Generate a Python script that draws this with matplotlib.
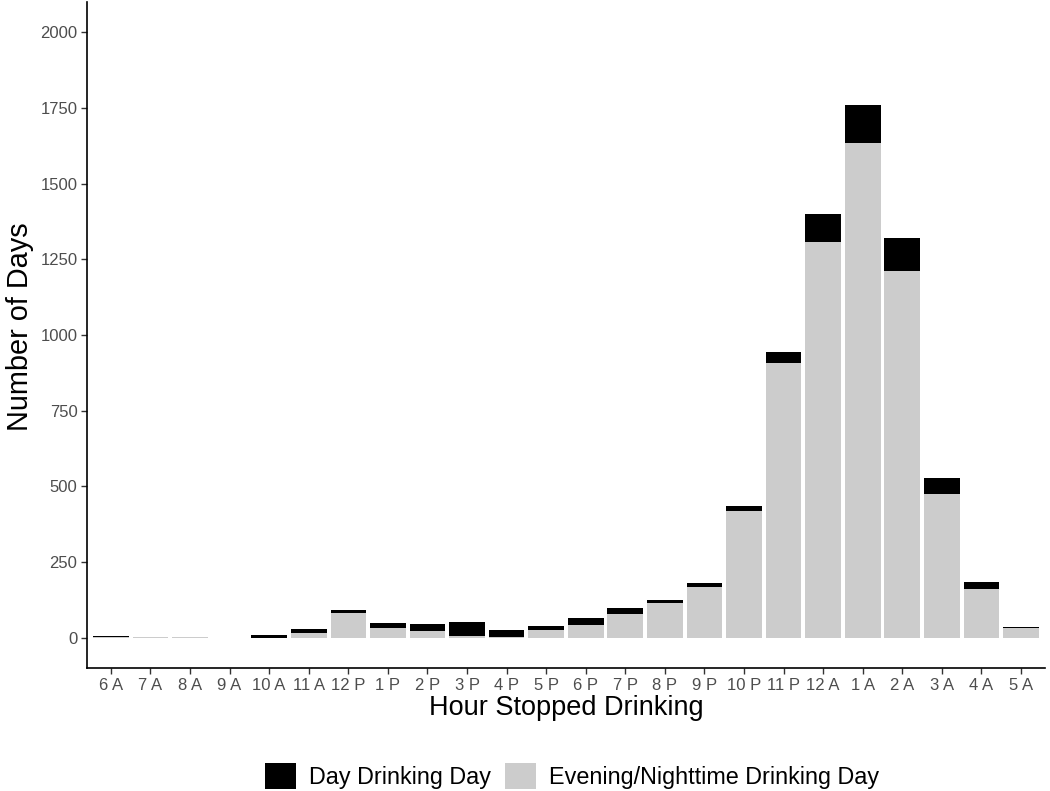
import numpy as np
import matplotlib
matplotlib.use("Agg")
from matplotlib import pyplot as plt
from matplotlib.patches import Patch

plt.rcParams['font.family'] = ['Liberation Sans', 'DejaVu Sans']

# Data
hours = ['6 A', '7 A', '8 A', '9 A', '10 A', '11 A', '12 P', '1 P', '2 P', '3 P',
         '4 P', '5 P', '6 P', '7 P', '8 P', '9 P', '10 P', '11 P', '12 A', '1 A',
         '2 A', '3 A', '4 A', '5 A']
evening = [3, 1, 1, 0, 0, 14, 83, 32, 22, 5,
           2, 26, 41, 77, 115, 169, 417, 907, 1308, 1635,
           1210, 476, 160, 33]
day = [2, 0, 0, 0, 10, 16, 9, 18, 23, 48,
       25, 12, 23, 20, 11, 13, 19, 37, 90, 125,
       109, 52, 25, 4]

x = np.arange(len(hours))
evening = np.array(evening)
day = np.array(day)

fig = plt.figure(figsize=(10.5, 7.91), dpi=100)
ax = fig.add_axes([0.083, 0.1555, 0.912, 0.842])

ax.bar(x, evening, width=0.9, color='#CCCCCC', linewidth=0)
ax.bar(x, day, width=0.9, bottom=evening, color='black', linewidth=0)

ax.set_xlim(-0.6, len(hours) - 0.4)
ax.set_ylim(-100, 2100)
ax.set_yticks([0, 250, 500, 750, 1000, 1250, 1500, 1750, 2000])
ax.set_xticks(x)
ax.set_xticklabels(hours)

for s in ['top', 'right']:
    ax.spines[s].set_visible(False)
for s in ['left', 'bottom']:
    ax.spines[s].set_linewidth(1.2)
ax.tick_params(axis='both', length=4, width=1, color='#333333',
               labelsize=12, labelcolor='#4D4D4D', pad=3)

ax.set_xlabel('Hour Stopped Drinking', fontsize=19.5, labelpad=2)
ax.set_ylabel('Number of Days', fontsize=20.8)
ax.yaxis.set_label_coords(-0.0553, 0.512)

handles = [Patch(facecolor='black', label='Day Drinking Day'),
           Patch(facecolor='#CCCCCC', label='Evening/Nighttime Drinking Day')]
fig.legend(handles=handles, loc='center', bbox_to_anchor=(0.545, 0.019), ncol=2,
           frameon=False, fontsize=16.8, handlelength=1.33, handleheight=1.33,
           handletextpad=0.56, columnspacing=0.6, borderpad=0, borderaxespad=0)

fig.savefig('out.png', dpi=100)
